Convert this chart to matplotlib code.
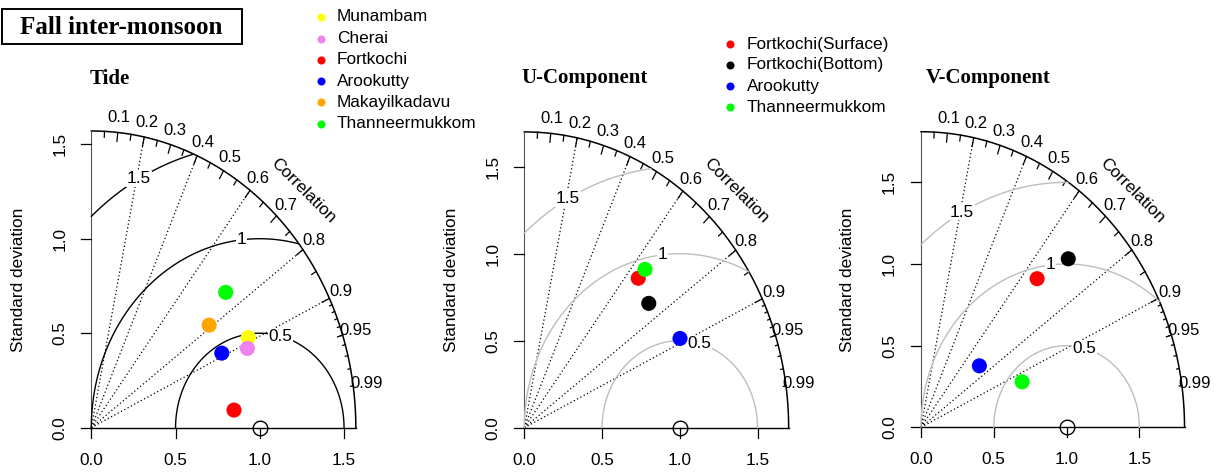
import numpy as np
import matplotlib.pyplot as plt
from matplotlib.patches import Rectangle

plt.rcParams['font.family'] = ['Liberation Sans', 'DejaVu Sans']

W, H = 1226, 473

# ---------------- data ----------------
tide_stations = ["Munambam", "Cherai", "Fortkochi", "Arookutty", "Makayilkadavu", "Thanneermukkom"]
tide_colors = ["#FFFF00", "#EE82EE", "#FF0000", "#0000FF", "#FFA500", "#00FF00"]
tide_sd = [1.047, 1.017, 0.852, 0.869, 0.885, 1.072]
tide_corr = [0.890, 0.911, 0.994, 0.891, 0.790, 0.744]

current_stations = ["Fortkochi(Surface)", "Fortkochi(Bottom)", "Arookutty", "Thanneermukkom"]
current_colors = ["#FF0000", "#000000", "#0000FF", "#00FF00"]
u_sd = [1.129, 1.073, 1.125, 1.196]
u_corr = [0.649, 0.746, 0.890, 0.649]
v_sd = [1.210, 1.445, 0.550, 0.748]
v_corr = [0.659, 0.700, 0.729, 0.928]

panel_titles = ["Tide", "U-Component", "V-Component"]
panel_maxsd = [1.57, 1.70, 1.81]
rms_levels = [0.5, 1.0, 1.5]
rms_labels = ["0.5", "1", "1.5"]
corr_lines = [0.2, 0.4, 0.6, 0.8, 0.9]
corr_labels = [0.1, 0.2, 0.3, 0.4, 0.5, 0.6, 0.7, 0.8, 0.9, 0.95, 0.99]
sd_ticks = [0.0, 0.5, 1.0, 1.5]
ref_sd = 1.0
main_title = "Fall inter-monsoon"

# ---------------- layout (pixels) ----------------
# origin x, origin y (from top), px per unit x, px per unit y
layout = [(91.3, 427.7, 168.5, 189.0),
          (524.3, 427.7, 155.5, 174.0),
          (921.0, 427.3, 145.6, 163.3)]
arc_colors = ["black", "#BEBEBE", "#BEBEBE"]
title_x = [109.3, 585.0, 988.3]

fig = plt.figure(figsize=(W / 100, H / 100), dpi=100)

ov = fig.add_axes([0, 0, 1, 1])
ov.set_xlim(0, W)
ov.set_ylim(H, 0)
ov.axis('off')
ov.patch.set_visible(False)

FS = 12.4
dotted = (0, (1, 2))


def taylor(ax, sd, corr, colors, maxsd, gcol, sx, sy):
    ax.set_xlim(0, maxsd)
    ax.set_ylim(0, maxsd)
    ax.axis('off')
    ax.patch.set_visible(False)
    sd = np.asarray(sd)
    corr = np.asarray(corr)
    kw = dict(clip_on=False)
    # outer arc
    th = np.linspace(0, np.pi / 2, 400)
    ax.plot(maxsd * np.cos(th), maxsd * np.sin(th), color='black', lw=1.1, **kw)
    # axes lines
    ax.plot([0, maxsd], [0, 0], color='black', lw=1.0, **kw)
    ax.plot([0, 0], [0, maxsd], color='#555555', lw=0.8, **kw)
    for t in sd_ticks:
        ax.plot([-10 / sx, 0], [t, t], color='black', lw=0.9, **kw)
        ax.plot([t, t], [0, -10 / sy], color='black', lw=0.9, **kw)
        ax.text(t, -32.5 / sy, f"{t:.1f}", ha='center', va='center', fontsize=FS, **kw)
        ax.text(-31.5 / sx, t, f"{t:.1f}", ha='center', va='center', rotation=90,
                fontsize=FS, **kw)
    # correlation lines
    for c in corr_lines:
        ax.plot([0, maxsd * c], [0, maxsd * np.sqrt(1 - c * c)], color='black',
                lw=0.9, ls=dotted, **kw)
    # correlation ticks
    big = np.arccos(np.arange(0.1, 0.91, 0.1))
    med = np.arccos(np.arange(0.05, 0.96, 0.1))
    sml = np.arccos(np.arange(0.91, 0.995, 0.01))
    for angs, f in ((big, 0.97), (med, 0.98), (sml, 0.99)):
        for a in angs:
            ax.plot([np.cos(a) * maxsd, np.cos(a) * maxsd * f],
                    [np.sin(a) * maxsd, np.sin(a) * maxsd * f], color='black', lw=0.9, **kw)
    for c in corr_labels:
        a = np.arccos(c)
        ax.text(np.cos(a) * 1.05 * maxsd, np.sin(a) * 1.05 * maxsd, f"{c:g}",
                ha='center', va='center', fontsize=12, **kw)
    ax.text(0.8 * maxsd, 0.8 * maxsd, "Correlation", rotation=-45, ha='center',
            va='center', fontsize=FS, rotation_mode='anchor', **kw)
    # RMS arcs
    t = np.arange(0, np.pi + 0.001, 0.005)
    lab_ang = [1.32, 1.68, 2.07]
    for g, lab, la in zip(rms_levels, rms_labels, lab_ang):
        x = ref_sd + g * np.cos(t)
        y = g * np.sin(t)
        m = (x >= 0) & (x * x + y * y <= maxsd * maxsd)
        ax.plot(x[m], y[m], color=gcol, lw=1.0, zorder=2, **kw)
        ax.text(ref_sd + g * np.cos(la), g * np.sin(la), lab, ha='center', va='center',
                fontsize=FS, zorder=3,
                bbox=dict(facecolor='white', edgecolor='none', pad=0.5), **kw)
    # reference point
    ax.plot([ref_sd], [0], 'o', mfc='none', mec='black', ms=10.5, mew=1.0, zorder=4, **kw)
    # data points
    ax.scatter(sd * corr, sd * np.sqrt(1 - corr ** 2), s=118, c=colors, zorder=6,
               edgecolors='none', **kw)


datasets = [(tide_sd, tide_corr, tide_colors),
            (u_sd, u_corr, current_colors),
            (v_sd, v_corr, current_colors)]

for i, (sdv, cv, cols) in enumerate(datasets):
    x0, y0, sx, sy = layout[i]
    ms = panel_maxsd[i]
    ax = fig.add_axes([x0 / W, (H - y0) / H, ms * sx / W, ms * sy / H])
    taylor(ax, sdv, cv, cols, ms, arc_colors[i], sx, sy)
    # y label
    ov.text(x0 - 73, y0 - ms / 2 * sy, "Standard deviation", rotation=90, ha='center',
            va='center', fontsize=FS)
    ov.text(title_x[i], 78.5, panel_titles[i], ha='center', va='center', fontsize=15,
            fontweight='bold', family='Liberation Serif')

# main title box
ov.add_patch(Rectangle((1.5, 9), 240.5, 35, fill=False, lw=1.4, edgecolor='black'))
ov.text(121.5, 27, main_title, ha='center', va='center', fontsize=18, fontweight='bold',
        family='Liberation Serif')

# legends
leg1_y = [16.7, 38.8, 60.0, 81.2, 102.4, 123.6]
for name, col, yy in zip(tide_stations, tide_colors, leg1_y):
    ov.plot([320.5], [yy], 'o', color=col, ms=5.8, mec='none')
    ov.text(337, yy, name, ha='left', va='center', fontsize=FS)

leg2_y = [44.0, 65.0, 86.2, 107.3]
for name, col, yy in zip(current_stations, current_colors, leg2_y):
    ov.plot([730], [yy], 'o', color=col, ms=5.8, mec='none')
    ov.text(746.5, yy, name, ha='left', va='center', fontsize=FS)

fig.savefig("out.png", dpi=100)
